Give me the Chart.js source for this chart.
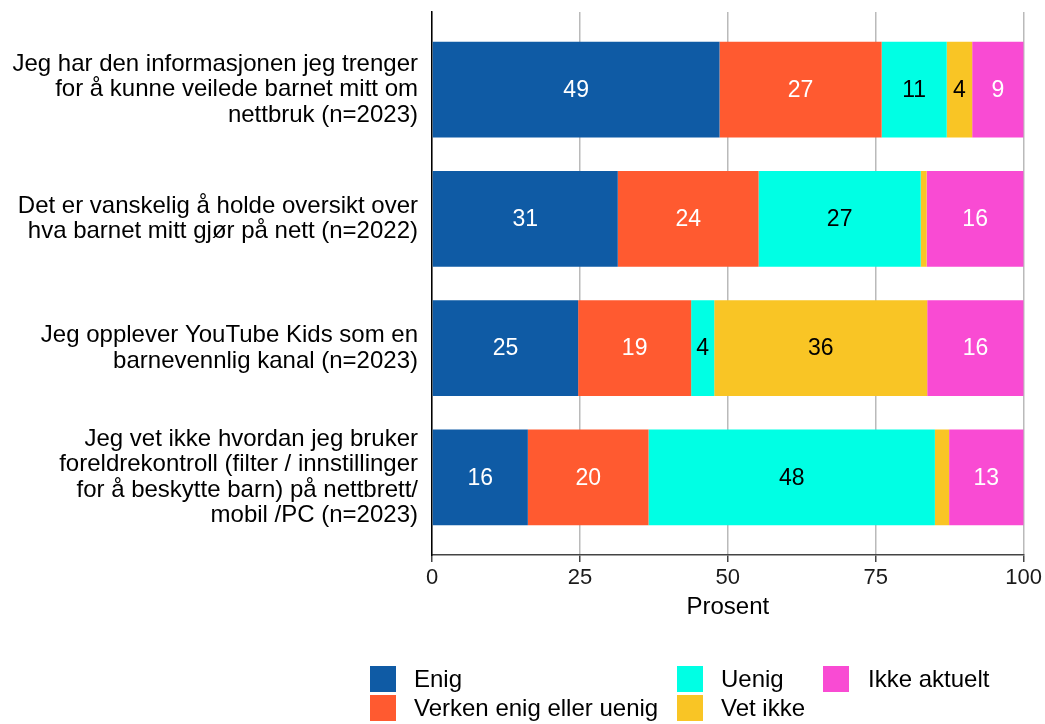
<!DOCTYPE html>
<html lang="no">
<head>
<meta charset="utf-8">
<title>Foreldres erfaringer med barns nettbruk</title>
<script src="https://cdn.jsdelivr.net/npm/chart.js@4/dist/chart.umd.min.js"></script>
<style>
  html, body { margin: 0; padding: 0; background: #ffffff; }
  #wrap { width: 1045px; height: 724px; position: relative; }
</style>
</head>
<body>
<div id="wrap"><canvas id="chart" width="1045" height="724"></canvas></div>
<script>
// Statements (each entry is one multi-line axis label)
const categories = [
  ["Jeg har den informasjonen jeg trenger", "for å kunne veilede barnet mitt om", "nettbruk (n=2023)"],
  ["Det er vanskelig å holde oversikt over", "hva barnet mitt gjør på nett (n=2022)"],
  ["Jeg opplever YouTube Kids som en", "barnevennlig kanal (n=2023)"],
  ["Jeg vet ikke hvordan jeg bruker", "foreldrekontroll (filter / innstillinger", "for å beskytte barn) på nettbrett/", "mobil /PC (n=2023)"]
];

// Share of respondents per answer, in percent
const enig        = [48.6, 31.4, 24.7, 16.2];
const verken      = [27.4, 23.8, 19.1, 20.4];
const uenig       = [11.0, 27.4, 3.9, 48.4];
const vetIkke     = [4.3, 1.0, 36.0, 2.4];
const ikkeAktuelt = [8.7, 16.4, 16.3, 12.6];

const seriesNames = ["Enig", "Verken enig eller uenig", "Uenig", "Vet ikke", "Ikke aktuelt"];
const seriesValues = [enig, verken, uenig, vetIkke, ikkeAktuelt];
const seriesColors = ["#0f5ba5", "#ff5a30", "#00ffe4", "#f9c525", "#f94bd3"];
const labelColors  = ["#ffffff", "#ffffff", "#000000", "#000000", "#ffffff"];

const xTicks = [0, 25, 50, 75, 100];

const FONT = "'Liberation Sans', Arial, Helvetica, sans-serif";
Chart.defaults.font.family = FONT;
Chart.defaults.color = "#1a1a1a";

const datasets = seriesNames.map((name, s) => ({
  label: name,
  data: seriesValues[s].map((v, i) => ({ x: v, y: i })),
  backgroundColor: seriesColors[s],
  borderWidth: 0,
  categoryPercentage: 0.74,
  barPercentage: 1.0
}));

// Value labels centred in each segment
const segmentLabels = {
  id: "segmentLabels",
  afterDatasetsDraw(chart) {
    const ctx = chart.ctx;
    ctx.save();
    ctx.font = "23px " + FONT;
    ctx.textAlign = "center";
    ctx.textBaseline = "middle";
    chart.data.datasets.forEach((ds, s) => {
      const meta = chart.getDatasetMeta(s);
      meta.data.forEach((bar, i) => {
        const v = ds.data[i].x;
        if (v < 3) return;
        ctx.fillStyle = labelColors[s];
        ctx.fillText(String(Math.round(v)), (bar.x + bar.base) / 2, bar.y + 1);
      });
    });
    ctx.restore();
  }
};

// Legend laid out in columns below the plot
const columnLegend = {
  id: "columnLegend",
  afterDraw(chart) {
    const ctx = chart.ctx;
    const cols = [
      { box: 370, text: 414, items: [0, 1] },
      { box: 677, text: 721, items: [2, 3] },
      { box: 823, text: 868, items: [4] }
    ];
    const rows = [666, 695];
    const size = 26;
    ctx.save();
    ctx.font = "24px " + FONT;
    ctx.textAlign = "left";
    ctx.textBaseline = "middle";
    cols.forEach(col => {
      col.items.forEach((s, r) => {
        ctx.fillStyle = seriesColors[s];
        ctx.fillRect(col.box, rows[r], size, size);
        ctx.fillStyle = "#000000";
        ctx.fillText(seriesNames[s], col.text, rows[r] + size / 2 + 1);
      });
    });
    ctx.restore();
  }
};

new Chart(document.getElementById("chart"), {
  type: "bar",
  data: { datasets },
  options: {
    indexAxis: "y",
    responsive: false,
    animation: false,
    layout: { padding: { top: 12, right: 21, bottom: 0, left: 0 } },
    plugins: {
      legend: { display: false },
      tooltip: { enabled: false }
    },
    scales: {
      x: {
        type: "linear",
        stacked: true,
        min: 0,
        max: 100,
        afterBuildTicks(scale) { scale.ticks = xTicks.map(v => ({ value: v })); },
        afterFit(scale) { scale.height = 169; },
        grid: {
          color: "#bababa",
          lineWidth: 1.5,
          drawTicks: true,
          tickLength: 7,
          tickColor: "#444444",
          tickWidth: 1.5
        },
        border: { display: true, color: "#444444", width: 1.5 },
        ticks: {
          font: { size: 22 },
          color: "#1a1a1a",
          padding: 3,
          maxRotation: 0
        },
        title: {
          display: true,
          text: "Prosent",
          font: { size: 24, lineHeight: 1.2 },
          color: "#000000",
          padding: { top: 2, bottom: 102.6 }
        }
      },
      y: {
        type: "linear",
        stacked: true,
        reverse: true,
        offset: false,
        bounds: "data",
        min: -0.6,
        max: 3.6,
        afterBuildTicks(scale) {
          scale.ticks = categories.map((c, i) => ({ value: i }));
          scale.min = -0.6;
          scale.max = 3.6;
        },
        afterFit(scale) {
          scale.width = 432;
          scale.paddingTop = 0;
          scale.paddingBottom = 0;
        },
        grid: { display: false, drawTicks: false, offset: false },
        border: { display: true, color: "#000000", width: 1.5 },
        ticks: {
          font: { size: 24, lineHeight: "25.5px" },
          color: "#000000",
          padding: 14,
          autoSkip: false,
          callback: (value) => categories[value] || ""
        }
      }
    }
  },
  plugins: [segmentLabels, columnLegend]
});
</script>
</body>
</html>
